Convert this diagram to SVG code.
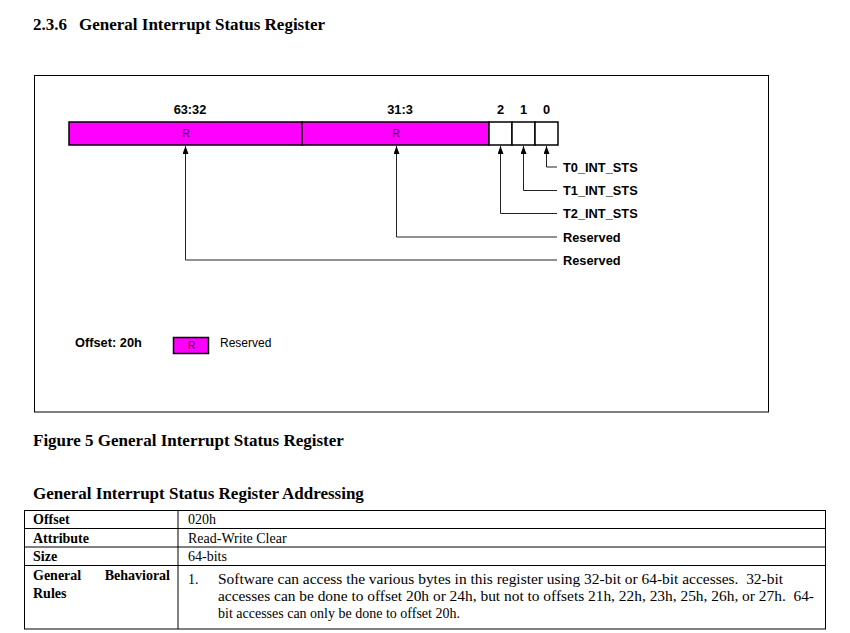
<svg xmlns="http://www.w3.org/2000/svg" width="850" height="633" viewBox="0 0 850 633">
<style>
.ser{font-family:"Liberation Serif","Times New Roman",serif;fill:#000}
.serb{font-family:"Liberation Serif","Times New Roman",serif;font-weight:bold;fill:#000}
.sans{font-family:"Liberation Sans",Arial,sans-serif;fill:#000}
.lbl{font-family:"Liberation Sans",Arial,sans-serif;font-weight:bold;font-size:12.8px;fill:#000}
.fld{fill:#FF00FF;stroke:#000;stroke-width:1.5}
.bit{fill:#fff;stroke:#000;stroke-width:1.5}
.r{font-family:"Liberation Sans",Arial,sans-serif;font-size:10.5px;fill:#3a003a;text-anchor:middle}
.conn{fill:none;stroke:#222;stroke-width:1}
.tbl{fill:none;stroke:#000;stroke-width:1}
</style>
<defs>
<marker id="ah" viewBox="0 0 8 6" refX="8" refY="3" markerWidth="8" markerHeight="6" markerUnits="userSpaceOnUse" orient="auto">
<path d="M0,0 L8,3 L0,6 Z" fill="#000"/>
</marker>
</defs>
<rect width="850" height="633" fill="#fff"/>

<text class="serb" x="33" y="30" font-size="17">2.3.6<tspan x="79">General Interrupt Status Register</tspan></text>

<rect x="34.5" y="75.5" width="734" height="336.5" fill="none" stroke="#000" stroke-width="1"/>

<g id="bitlabels">
<text class="lbl" x="190" y="113.5" text-anchor="middle">63:32</text>
<text class="lbl" x="400" y="113.5" text-anchor="middle">31:3</text>
<text class="lbl" x="500.5" y="113.5" text-anchor="middle">2</text>
<text class="lbl" x="523.5" y="113.5" text-anchor="middle">1</text>
<text class="lbl" x="546.5" y="113.5" text-anchor="middle">0</text>
</g>

<g id="field-63-32">
<rect class="fld" x="69" y="122" width="233" height="23"/>
<text class="r" x="186" y="137">R</text>
</g>
<g id="field-31-3">
<rect class="fld" x="302" y="122" width="187" height="23"/>
<text class="r" x="396" y="137">R</text>
</g>
<g id="bit2"><rect class="bit" x="489" y="122" width="23" height="23"/></g>
<g id="bit1"><rect class="bit" x="512" y="122" width="23" height="23"/></g>
<g id="bit0"><rect class="bit" x="535" y="122" width="23" height="23"/></g>

<g id="connectors">
<path class="conn" d="M557,167 H546.5 V146" marker-end="url(#ah)"/>
<path class="conn" d="M557,190.5 H523.5 V146" marker-end="url(#ah)"/>
<path class="conn" d="M557,213.5 H500.5 V146" marker-end="url(#ah)"/>
<path class="conn" d="M557,237 H396.5 V146" marker-end="url(#ah)"/>
<path class="conn" d="M557,260 H185.5 V146" marker-end="url(#ah)"/>
</g>

<g id="fieldnames">
<text class="lbl" x="563" y="171.5">T0_INT_STS</text>
<text class="lbl" x="563" y="195">T1_INT_STS</text>
<text class="lbl" x="563" y="218">T2_INT_STS</text>
<text class="lbl" x="563" y="241.5">Reserved</text>
<text class="lbl" x="563" y="264.5">Reserved</text>
</g>

<g id="legend">
<text class="sans" x="75" y="347" font-size="12.8" font-weight="bold">Offset: 20h</text>
<rect class="fld" x="173.5" y="337.5" width="35" height="16" stroke-width="1"/>
<text class="r" x="191.5" y="349">R</text>
<text class="sans" x="220" y="346.5" font-size="12">Reserved</text>
</g>

<text class="serb" x="33" y="446" font-size="17">Figure 5 General Interrupt Status Register</text>

<text class="serb" x="33" y="499" font-size="17">General Interrupt Status Register Addressing</text>

<g id="table">
<rect class="tbl" x="24.5" y="510.5" width="801" height="118.5"/>
<line class="tbl" x1="24.5" y1="528.5" x2="825.5" y2="528.5"/>
<line class="tbl" x1="24.5" y1="547" x2="825.5" y2="547"/>
<line class="tbl" x1="24.5" y1="565.5" x2="825.5" y2="565.5"/>
<line class="tbl" x1="178" y1="510.5" x2="178" y2="629"/>
<text class="serb" x="33" y="524" font-size="14">Offset</text>
<text class="serb" x="33" y="542.5" font-size="14">Attribute</text>
<text class="serb" x="33" y="561" font-size="14">Size</text>
<text class="serb" x="33" y="580" font-size="14">General</text>
<text class="serb" x="170" y="580" font-size="14" text-anchor="end">Behavioral</text>
<text class="serb" x="33" y="597.5" font-size="14">Rules</text>
<text class="ser" x="188" y="524" font-size="14">020h</text>
<text class="ser" x="188" y="542.5" font-size="14">Read-Write Clear</text>
<text class="ser" x="188" y="561" font-size="14">64-bits</text>
<text class="ser" x="188" y="584" font-size="14">1.</text>
<text class="ser" x="218" y="584" font-size="14" textLength="565" lengthAdjust="spacingAndGlyphs" xml:space="preserve">Software can access the various bytes in this register using 32-bit or 64-bit accesses.  32-bit</text>
<text class="ser" x="218" y="601" font-size="14" textLength="596" lengthAdjust="spacingAndGlyphs" xml:space="preserve">accesses can be done to offset 20h or 24h, but not to offsets 21h, 22h, 23h, 25h, 26h, or 27h.  64-</text>
<text class="ser" x="218" y="618" font-size="14">bit accesses can only be done to offset 20h.</text>
</g>
</svg>
